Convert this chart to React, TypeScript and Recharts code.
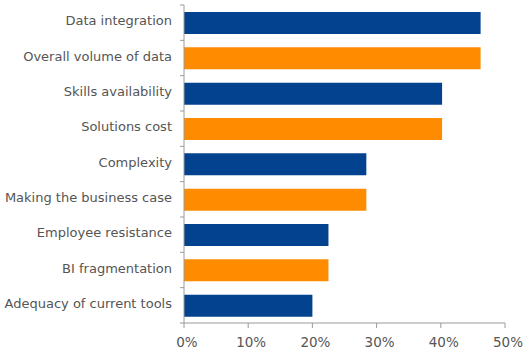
import { Bar, BarChart, Cell, XAxis, YAxis } from "recharts"

const categories = [
  "Data integration",
  "Overall volume of data",
  "Skills availability",
  "Solutions cost",
  "Complexity",
  "Making the business case",
  "Employee resistance",
  "BI fragmentation",
  "Adequacy of current tools",
]
const values = [46.2, 46.2, 40.2, 40.2, 28.4, 28.4, 22.5, 22.5, 20]
const xTicks = [0, 10, 20, 30, 40, 50]

const data = categories.map((name, i) => ({ name, value: values[i] }))

const BLUE = "#03428f"
const ORANGE = "#ff8c00"
const AXIS = "#9a9a9a"
const TEXT = "#555555"
const FONT = "'DejaVu Sans', sans-serif"

const WIDTH = 529
const HEIGHT = 353
const TOP = 5
const X_AXIS_H = 30
const PLOT_LEFT = 184
const BAND = (HEIGHT - TOP - X_AXIS_H) / categories.length

function CategoryTick({ y, payload, index }: any) {
  return (
    <g>
      <text
        x={PLOT_LEFT - 12}
        y={y}
        dy={2.5}
        textAnchor="end"
        fill={TEXT}
        fontFamily={FONT}
        fontSize={13}
      >
        {payload.value}
      </text>
      <line x1={PLOT_LEFT - 4} x2={PLOT_LEFT} y1={y - BAND / 2} y2={y - BAND / 2} stroke={AXIS} />
      {index === categories.length - 1 && (
        <line x1={PLOT_LEFT - 4} x2={PLOT_LEFT} y1={y + BAND / 2} y2={y + BAND / 2} stroke={AXIS} />
      )}
    </g>
  )
}

function PercentTick({ x, y, payload }: any) {
  return (
    <text x={x + 3} y={y} dy={16.5} textAnchor="middle" fill={TEXT} fontFamily={FONT} fontSize={13.5}>
      {`${payload.value}%`}
    </text>
  )
}

export default function App() {
  return (
    <div style={{ position: "absolute", left: 0, top: 0 }}>
      <BarChart
        data={data}
        height={HEIGHT}
        layout="vertical"
        margin={{ top: TOP, right: 24, bottom: 0, left: 0 }}
        width={WIDTH}
      >
        <XAxis
          axisLine={{ stroke: AXIS }}
          domain={[0, 50]}
          height={X_AXIS_H}
          tick={<PercentTick />}
          tickLine={{ stroke: AXIS }}
          tickSize={5}
          ticks={xTicks}
          type="number"
        />
        <YAxis
          axisLine={{ stroke: AXIS }}
          dataKey="name"
          interval={0}
          tick={<CategoryTick />}
          tickLine={false}
          type="category"
          width={PLOT_LEFT}
        />
        <Bar barSize={22} dataKey="value" isAnimationActive={false}>
          {data.map((d, i) => (
            <Cell key={d.name} fill={i % 2 === 0 ? BLUE : ORANGE} />
          ))}
        </Bar>
      </BarChart>
    </div>
  )
}
